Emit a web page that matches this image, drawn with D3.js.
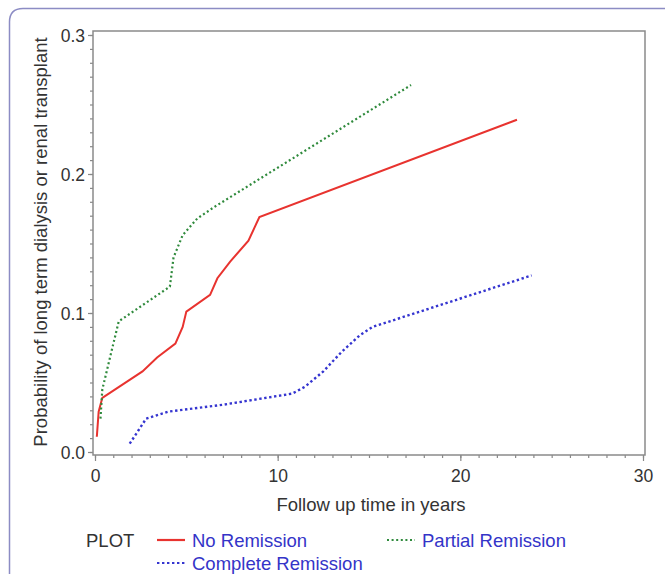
<!doctype html>
<html>
  <head>
    <meta charset="utf-8">
    <title>Probability of dialysis or transplant</title>
    <script src="https://cdnjs.cloudflare.com/ajax/libs/d3/7.8.5/d3.min.js"></script>
    <style>
      body { margin: 0; background: #fff; }
      text { font-family: "Liberation Sans", Arial, sans-serif; }
    </style>
  </head>
  <body>
    <div id="chart"></div>
    <script>

    // data: [years, probability]
    let noRemission = [[0.1, 0.011], [0.2, 0.029], [0.4, 0.039], [2.6, 0.058], [3.4, 0.068],
      [4.4, 0.078], [4.8, 0.090], [5.0, 0.101], [6.3, 0.113], [6.7, 0.125], [7.4, 0.137],
      [8.4, 0.152], [9.0, 0.169], [23.1, 0.239]];
    let partialRemission = [[0.3, 0.024], [0.4, 0.045], [1.3, 0.094], [4.1, 0.119], [4.3, 0.140],
      [4.8, 0.156], [5.6, 0.168], [6.5, 0.176], [17.3, 0.264]];
    let completeRemission = [[1.9, 0.006], [2.4, 0.016], [2.8, 0.024], [4.0, 0.029], [7.0, 0.034],
      [10.8, 0.042], [11.5, 0.047], [12.5, 0.058], [13.5, 0.072], [14.5, 0.084], [15.2, 0.090],
      [23.9, 0.127]];

    let xMajor = [0, 10, 20, 30];
    let yMajor = [0.0, 0.1, 0.2, 0.3];
    let seriesNames = ["No Remission", "Partial Remission", "Complete Remission"];

    let svg = d3.select("#chart").append("svg")
      .attr("width", 665)
      .attr("height", 574);

    // outer page frame
    svg.append("path")
      .attr("d", "M9.5,574 L9.5,22 Q9.5,8.5 23,8.5 L665,8.5")
      .style("fill", "none")
      .style("stroke", "#8c8cc4")
      .style("stroke-width", 1.5);

    let x = d3.scaleLinear().domain([0, 30]).range([95, 643]);
    let y = d3.scaleLinear().domain([0, 0.3]).range([452, 35]);

    // minor + major ticks
    let xMinor = svg.append("g").attr("transform", "translate(0,455)")
      .call(d3.axisBottom(x).tickValues(d3.range(0, 31)).tickSize(3).tickFormat(""));
    let xAxis = svg.append("g").attr("transform", "translate(0,455)")
      .call(d3.axisBottom(x).tickValues(xMajor).tickSize(6).tickPadding(9).tickFormat(d3.format("d")));
    let yMinor = svg.append("g").attr("transform", "translate(93,0)")
      .call(d3.axisLeft(y).tickValues(d3.range(0, 31).map(d => d / 100)).tickSize(3).tickFormat(""));
    let yAxis = svg.append("g").attr("transform", "translate(93,0)")
      .call(d3.axisLeft(y).tickValues(yMajor).tickSize(5).tickPadding(3).tickFormat(d3.format(".1f")));

    [xMinor, xAxis, yMinor, yAxis].forEach(g => {
      g.select(".domain").remove();
      g.selectAll("line").style("stroke", "#888").style("stroke-width", 1.2);
      g.selectAll("text").style("font-size", "17.5px").style("fill", "#333")
        .style("font-family", "'Liberation Sans', Arial, sans-serif");
    });
    yAxis.selectAll("text").attr("dy", "0.36em");

    // plot frame
    svg.append("rect")
      .attr("x", 93).attr("y", 31)
      .attr("width", 552).attr("height", 424)
      .style("fill", "none")
      .style("stroke", "#8a8a8a")
      .style("stroke-width", 1.5);

    let line = d3.line().x(d => x(d[0])).y(d => y(d[1]));

    svg.append("path").datum(noRemission)
      .attr("d", line)
      .style("fill", "none").style("stroke", "#e8332f").style("stroke-width", 2);
    svg.append("path").datum(partialRemission)
      .attr("d", line)
      .style("fill", "none").style("stroke", "#2f8a3c").style("stroke-width", 2.2)
      .style("stroke-dasharray", "2,2.6");
    svg.append("path").datum(completeRemission)
      .attr("d", line)
      .style("fill", "none").style("stroke", "#3535d0").style("stroke-width", 2.4)
      .style("stroke-dasharray", "2.4,2.6");

    // axis titles
    svg.append("text")
      .attr("x", 371).attr("y", 511)
      .text("Follow up time in years")
      .style("text-anchor", "middle")
      .style("font-size", "18.5px").style("fill", "#333");

    svg.append("text")
      .attr("transform", "translate(47,242) rotate(-90)")
      .text("Probability of long term dialysis or renal transplant")
      .style("text-anchor", "middle")
      .style("font-size", "18.5px").style("fill", "#333");

    // legend
    svg.append("text")
      .attr("x", 86).attr("y", 547)
      .text("PLOT")
      .style("font-size", "18.5px").style("fill", "#333");

    let legendItems = [
      { x: 157, y: 540, color: "#e8332f", dash: null },
      { x: 387, y: 540, color: "#2f8a3c", dash: "2,2.6" },
      { x: 157, y: 563, color: "#3535d0", dash: "2.4,2.6" }
    ];
    legendItems.forEach((d, i) => {
      svg.append("line")
        .attr("x1", d.x).attr("x2", d.x + 28)
        .attr("y1", d.y).attr("y2", d.y)
        .style("stroke", d.color).style("stroke-width", 2.2)
        .style("stroke-dasharray", d.dash);
      svg.append("text")
        .attr("x", d.x + 35).attr("y", d.y + 7)
        .text(seriesNames[i])
        .style("font-size", "18.5px").style("fill", "#3434c8");
    });

    </script>
  </body>
</html>
